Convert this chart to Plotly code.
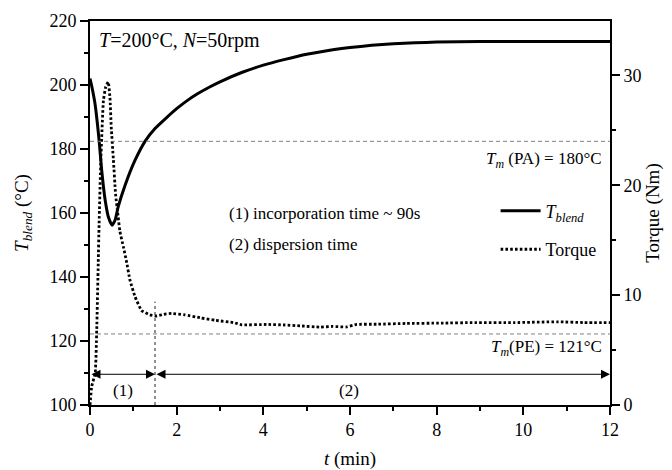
import plotly.graph_objects as go

# ---- data ----
t_blend_time = [0, 0.05, 0.115, 0.21, 0.27, 0.35, 0.43, 0.51, 0.58, 0.65, 0.81, 1.04, 1.27, 1.5,
                1.75, 2.0, 2.25, 2.5, 2.75, 3.0, 3.5, 4.0, 4.5, 5.0, 5.5, 6.0, 6.5, 7.0, 7.5, 8.0, 9.0, 10.0, 11.0, 12.0]
t_blend = [202, 199, 194.2, 182.7, 173.3, 164, 158.5, 156.2, 157.8, 161.9, 168.7, 176.5, 182.4, 186.4,
           189.6, 192.6, 195.2, 197.4, 199.3, 201.0, 203.9, 206.2, 208.0, 209.6, 210.8, 211.7, 212.4, 212.9, 213.2,
           213.4, 213.6, 213.6, 213.6, 213.6]

torque_time = [0, 0.04, 0.12, 0.155, 0.19, 0.21, 0.25, 0.31, 0.36, 0.42, 0.46, 0.49, 0.54, 0.59, 0.65,
               0.69, 0.77, 0.85, 0.92, 1.04, 1.19, 1.38, 1.54, 1.7, 1.88, 2.19, 2.54, 2.9, 3.31, 3.5, 4.08,
               4.5, 4.85, 5.31, 5.6, 5.92, 6.15, 6.62, 7.3, 8.1, 8.88, 9.8, 10.8, 11.4, 12.0]
torque = [0, 1.7, 2.9, 6.8, 12.9, 16.5, 22.3, 27.7, 28.9, 29.4, 28.0, 25.3, 22.3, 19.2, 17.1,
          15.8, 14.4, 12.9, 11.4, 9.85, 8.6, 8.2, 8.1, 8.25, 8.33, 8.2, 7.94, 7.7, 7.5, 7.3, 7.33,
          7.28, 7.2, 7.09, 7.15, 7.1, 7.33, 7.35, 7.42, 7.45, 7.5, 7.5, 7.57, 7.5, 7.5]

x_ticks = [0, 2, 4, 6, 8, 10, 12]
y_ticks = [100, 120, 140, 160, 180, 200, 220]
y2_ticks = [0, 10, 20, 30]

tm_pa_line = 182.4
tm_pe_line = 122.2
incorp_end = 1.5
arrow_level = 109.6

FONT = "Liberation Serif, Times New Roman, serif"

fig = go.Figure()
fig.add_trace(go.Scatter(
    x=t_blend_time, y=t_blend, mode="lines", line=dict(color="black", width=3, shape="spline", smoothing=0.5),
    name="<i>T</i><sub><i>blend</i></sub>", legendgroup="a"))
fig.add_trace(go.Scatter(
    x=torque_time, y=torque, mode="lines", yaxis="y2",
    line=dict(color="black", width=2.8, dash="2.6px,2.2px", shape="spline", smoothing=0.4),
    name="Torque", legendgroup="b"))

shapes = [
    dict(type="line", xref="x", yref="y", x0=0, x1=12, y0=tm_pa_line, y1=tm_pa_line,
         line=dict(color="#808080", width=1, dash="4px,3px")),
    dict(type="line", xref="x", yref="y", x0=0, x1=12, y0=tm_pe_line, y1=tm_pe_line,
         line=dict(color="#808080", width=1, dash="4px,3px")),
    dict(type="line", xref="x", yref="y", x0=incorp_end, x1=incorp_end, y0=100, y1=132.3,
         line=dict(color="#222", width=1, dash="3px,3px")),
]

ann = []
def txt(x, y, s, anchor="left", size=17):
    ann.append(dict(x=x, y=y, xref="x", yref="y", text=s, showarrow=False, xanchor=anchor, yanchor="middle",
                    font=dict(family=FONT, size=size, color="black")))

txt(0.16, 214, "<i>T</i>=200°C, <i>N</i>=50rpm", size=20)
txt(11.86, 176.5, "<i>T</i><sub><i>m</i></sub> (PA) = 180°C", anchor="right", size=17)
txt(11.86, 117.7, "<i>T</i><sub><i>m</i></sub>(PE) = 121°C", anchor="right", size=17)
txt(3.16, 159.9, "(1) incorporation time ~ 90s", size=17)
txt(3.16, 150.2, "(2) dispersion time", size=17)
txt(0.76, 104.6, "(1)", anchor="center", size=17)
txt(5.98, 104.6, "(2)", anchor="center", size=17)

for a, b in [(0, incorp_end), (incorp_end, 12)]:
    ann.append(dict(x=b, y=arrow_level, ax=a, ay=arrow_level, xref="x", yref="y", axref="x", ayref="y",
                    text="", showarrow=True, arrowhead=2, startarrowhead=2, arrowside="end+start",
                    arrowsize=1.8, startarrowsize=1.8, arrowwidth=1, arrowcolor="black", standoff=0, startstandoff=0))

axis_common = dict(showline=True, linecolor="black", linewidth=1.6, ticks="outside", ticklen=8, tickwidth=1.5,
                   tickcolor="black", showgrid=False, zeroline=False, automargin=False,
                   tickfont=dict(family=FONT, size=18, color="black"))

fig.update_layout(
    width=672, height=470, plot_bgcolor="white", paper_bgcolor="white",
    margin=dict(l=90, r=62, t=21, b=65),
    font=dict(family=FONT, size=18, color="black"),
    xaxis=dict(range=[0, 12], tickvals=x_ticks, mirror=True,
               minor=dict(dtick=1, ticklen=4, tickwidth=1.5, ticks="outside", tickcolor="black"),
               title=dict(text="<i>t</i> (min)", font=dict(family=FONT, size=19), standoff=16), **axis_common),
    yaxis=dict(range=[100, 220], tickvals=y_ticks, mirror=True,
               minor=dict(dtick=10, ticklen=4, tickwidth=1.5, ticks="outside", tickcolor="black"),
               title=dict(text="<i>T</i><sub><i>blend</i></sub> (°C)", font=dict(family=FONT, size=19), standoff=16),
               **axis_common),
    yaxis2=dict(range=[0, 34.94], tickvals=y2_ticks, overlaying="y", side="right",
                minor=dict(dtick=5, ticklen=4, tickwidth=1.5, ticks="outside", tickcolor="black"),
                title=dict(text="Torque (Nm)", font=dict(family=FONT, size=19), standoff=5), **axis_common),
    showlegend=True,
    legend=dict(x=0.78, y=0.553, xanchor="left", yanchor="top", bgcolor="rgba(0,0,0,0)",
                font=dict(family=FONT, size=18), tracegroupgap=12, itemwidth=40),
    shapes=shapes, annotations=ann,
)

fig.write_html("out.html", config={"displayModeBar": False},
               post_script="document.body.style.margin='0';document.body.style.overflow='hidden';")
